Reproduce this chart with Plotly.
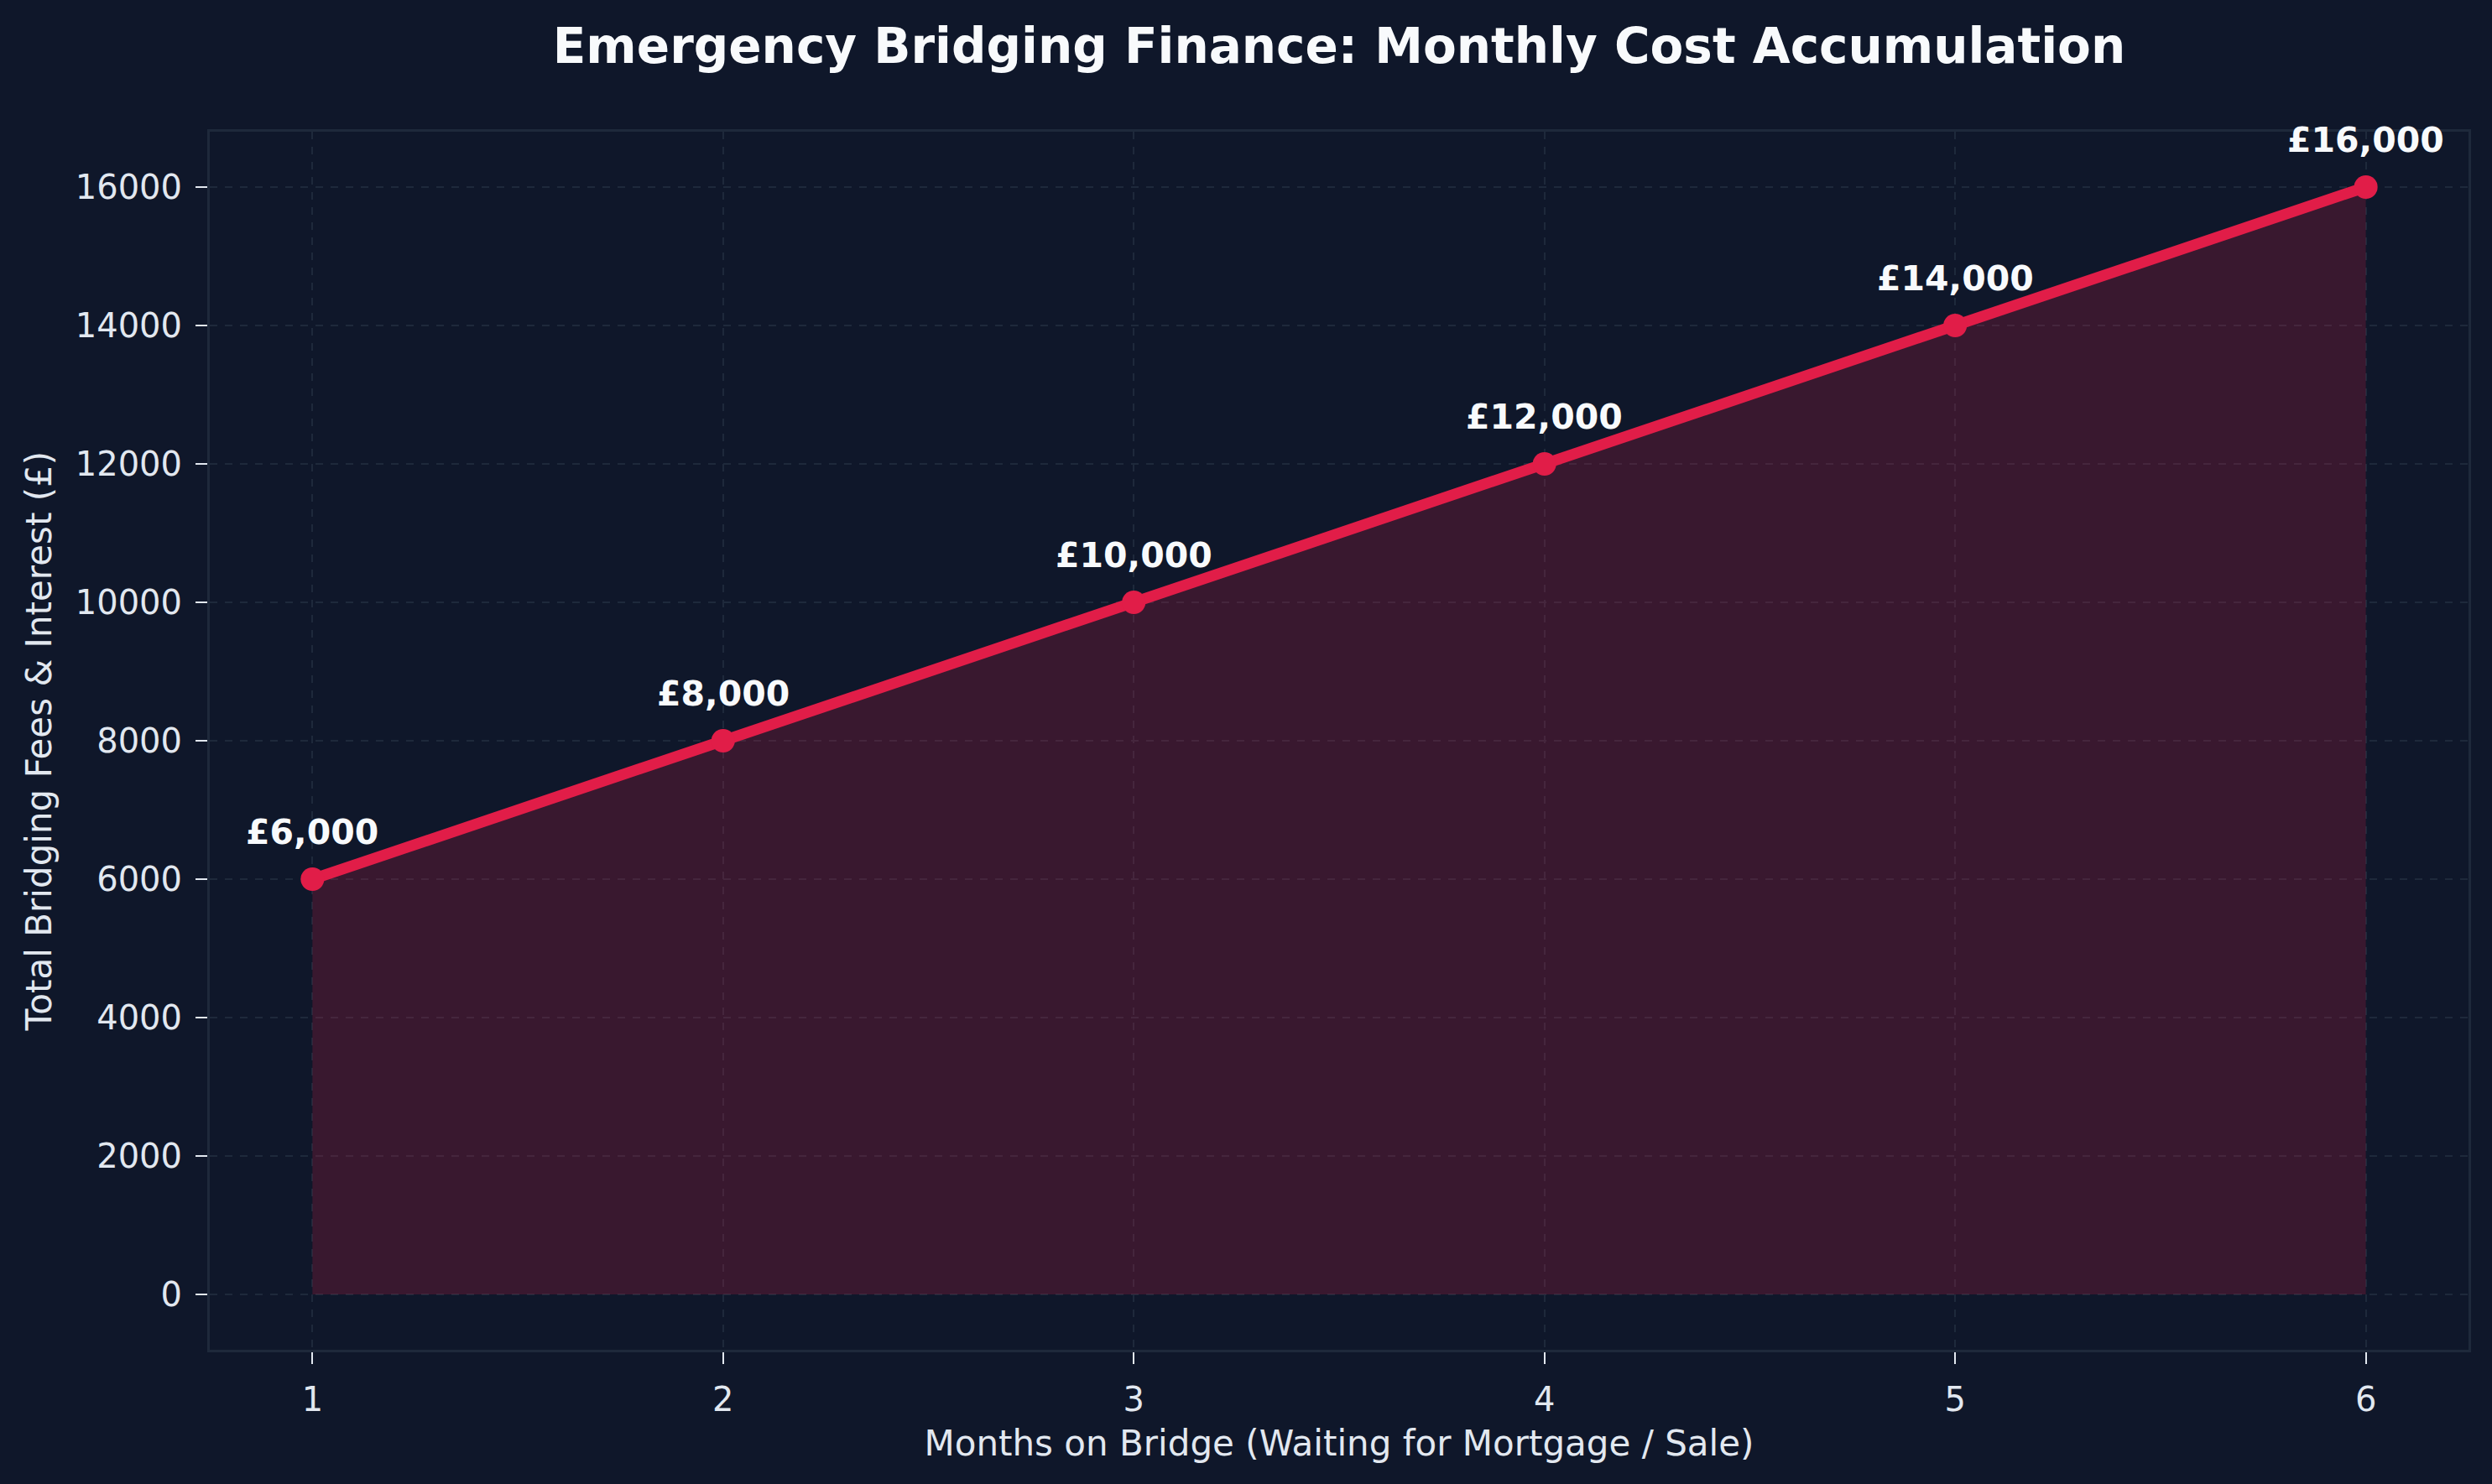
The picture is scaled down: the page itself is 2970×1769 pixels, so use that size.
import plotly.graph_objects as go

months = [1, 2, 3, 4, 5, 6]
costs = [6000, 8000, 10000, 12000, 14000, 16000]
y_ticks = [0, 2000, 4000, 6000, 8000, 10000, 12000, 14000, 16000]
labels = [f"£{v:,}" for v in costs]

BG = "#0f172a"
ROSE = "#e11d48"
GRID = "#1e293b"
TXT = "#e2e8f0"
FONT = "DejaVu Sans"

fig = go.Figure()
fig.add_trace(go.Scatter(
    x=months, y=costs, mode="lines", fill="tozeroy",
    fillcolor="rgba(225,29,72,0.2)", line=dict(width=0, color="rgba(225,29,72,0.3)"),
    hoverinfo="skip", showlegend=False))
fig.add_trace(go.Scatter(
    x=months, y=costs, mode="lines+markers",
    line=dict(color=ROSE, width=13),
    marker=dict(color=ROSE, size=28),
    showlegend=False))

for m, c, t in zip(months, costs, labels):
    fig.add_annotation(x=m, y=c, text=f"<b>{t}</b>", showarrow=False,
                       yshift=56, font=dict(family=FONT, size=41, color="#f8fafc"))

axis_common = dict(
    showline=True, mirror=True, linecolor=GRID, linewidth=3,
    showgrid=True, gridcolor=GRID, gridwidth=2, griddash="dash",
    zeroline=False, ticks="outside", ticklen=14, tickwidth=2, tickcolor=TXT,
    tickfont=dict(family=FONT, size=40, color=TXT),
    ticklabelstandoff=8,
)

fig.update_xaxes(
    range=[0.75, 6.25], tickmode="array", tickvals=months,
    ticktext=[str(m) for m in months],
    title=dict(text="Months on Bridge (Waiting for Mortgage / Sale)",
               font=dict(family=FONT, size=42, color=TXT), standoff=16),
    **axis_common)
fig.update_yaxes(
    range=[-800, 16800], tickmode="array", tickvals=y_ticks,
    ticktext=[str(v) for v in y_ticks],
    title=dict(text="Total Bridging Fees & Interest (£)",
               font=dict(family=FONT, size=42, color=TXT), standoff=16),
    **axis_common)

fig.update_layout(
    width=2970, height=1769,
    paper_bgcolor=BG, plot_bgcolor=BG,
    margin=dict(l=250, r=28, t=157, b=160),
    title=dict(text="<b>Emergency Bridging Finance: Monthly Cost Accumulation</b>",
               x=(250 + 2942) / 2 / 2970, xanchor="center",
               y=1 - 55 / 1769, yanchor="middle",
               font=dict(family=FONT, size=58, color="#f8fafc")),
    font=dict(family=FONT, color=TXT),
)

fig.write_html("out.html")
